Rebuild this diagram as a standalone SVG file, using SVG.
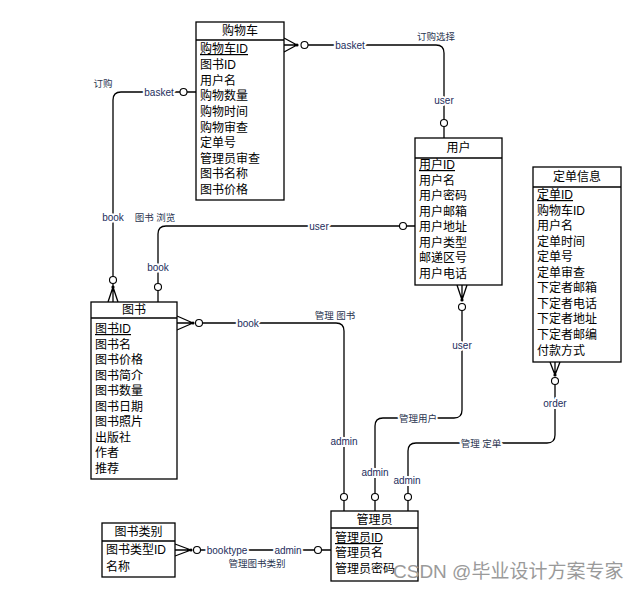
<svg xmlns="http://www.w3.org/2000/svg" width="640" height="591" viewBox="0 0 640 591">
<style>
.box{fill:#fff;stroke:#000;stroke-width:1.3}
.ln{fill:none;stroke:#000;stroke-width:1.3}
.cir{fill:#fff;stroke:#000;stroke-width:1.1}
.dot{fill:#000}
.t{font-family:"Liberation Sans","Noto Sans CJK SC",sans-serif;font-size:12px;fill:#000}
.h{text-anchor:middle}
.pk{text-decoration:underline}
.lb{font-family:"Liberation Sans","Noto Sans CJK SC",sans-serif;font-size:10px;fill:#1c2d5c;text-anchor:middle;dominant-baseline:central;paint-order:stroke;stroke:#fff;stroke-width:4px;stroke-linejoin:round}
.lc{font-family:"Liberation Sans","Noto Sans CJK SC",sans-serif;font-size:9.5px;fill:#2a3550;text-anchor:middle;dominant-baseline:central}
.wm{font-family:"Liberation Sans","Noto Sans CJK SC",sans-serif;font-size:19px;fill:#9a9a9a}
</style>
<g id="connectors">
  <!-- 购物车 -> 用户 -->
  <path class="ln" d="M284,38 L297,45 M284,45 H297 M284,52 L297,45 M308,45 H436 Q444,45 444,53 V119.5 M444,126.5 V138"/>
  <circle class="dot" cx="297" cy="45" r="1.6"/>
  <circle class="cir" cx="304.5" cy="45" r="3.5"/>
  <circle class="cir" cx="444" cy="123" r="3.5"/>
  <text class="lb" x="350" y="45">basket</text>
  <text class="lb" x="444" y="100">user</text>
  <text class="lc" x="436" y="36">订购选择</text>
  <!-- 购物车 -> 图书 -->
  <path class="ln" d="M196,92 H187 M180,92 H121 Q113,92 113,100 V276.5 M113,283.5 V302 M113,287 L108,302 M113,287 L118,302"/>
  <circle class="cir" cx="183.5" cy="92" r="3.5"/>
  <circle class="cir" cx="113" cy="280" r="3.5"/>
  <circle class="dot" cx="113" cy="287" r="1.6"/>
  <text class="lb" x="159" y="92">basket</text>
  <text class="lb" x="113" y="217">book</text>
  <text class="lc" x="103" y="83">订购</text>
  <text class="lc" x="155" y="217">图书 浏览</text>
  <!-- 图书 -> 用户 -->
  <path class="ln" d="M158,302 V290.5 M158,283.5 V234 Q158,226 166,226 H399.5 M406.5,226 H415"/>
  <circle class="cir" cx="158" cy="287" r="3.5"/>
  <circle class="cir" cx="403" cy="226" r="3.5"/>
  <text class="lb" x="158" y="267">book</text>
  <text class="lb" x="319" y="226">user</text>
  <!-- 图书 -> 管理员 -->
  <path class="ln" d="M177,316 L193,323 M177,323 H193 M177,330 L193,323 M202.5,323 H336 Q344,323 344,331 V493.5 M344,500.5 V511"/>
  <circle class="dot" cx="193" cy="323" r="1.6"/>
  <circle class="cir" cx="199" cy="323" r="3.5"/>
  <circle class="cir" cx="344" cy="497" r="3.5"/>
  <text class="lb" x="248" y="323">book</text>
  <text class="lb" x="344" y="441">admin</text>
  <text class="lc" x="335" y="315">管理 图书</text>
  <!-- 用户 -> 管理员 -->
  <path class="ln" d="M457,285 L462,300 M462,285 V300 M467,285 L462,300 M462,310.5 V410 Q462,418 454,418 H383 Q375,418 375,426 V493.5 M375,500.5 V511"/>
  <circle class="dot" cx="462" cy="300" r="1.6"/>
  <circle class="cir" cx="462" cy="307" r="3.5"/>
  <circle class="cir" cx="375" cy="497" r="3.5"/>
  <text class="lb" x="462" y="345">user</text>
  <text class="lb" x="375" y="472">admin</text>
  <text class="lc" x="418" y="418" style="paint-order:stroke;stroke:#fff;stroke-width:4px">管理用户</text>
  <!-- 定单信息 -> 管理员 -->
  <path class="ln" d="M550,362 L555,375 M555,362 V375 M560,362 L555,375 M555,384.5 V435 Q555,443 547,443 H416 Q408,443 408,451 V493.5 M408,500.5 V511"/>
  <circle class="dot" cx="555" cy="375" r="1.6"/>
  <circle class="cir" cx="555" cy="381" r="3.5"/>
  <circle class="cir" cx="408" cy="497" r="3.5"/>
  <text class="lb" x="555" y="403">order</text>
  <text class="lb" x="407" y="480">admin</text>
  <text class="lc" x="481" y="443" style="paint-order:stroke;stroke:#fff;stroke-width:4px">管理 定单</text>
  <!-- 图书类别 -> 管理员 -->
  <path class="ln" d="M175,544 L191,550 M175,550 H191 M175,556 L191,550 M200.5,550 H314.5 M321.5,550 H331"/>
  <circle class="dot" cx="191" cy="550" r="1.6"/>
  <circle class="cir" cx="197" cy="550" r="3.5"/>
  <circle class="cir" cx="318" cy="550" r="3.5"/>
  <text class="lb" x="227" y="550">booktype</text>
  <text class="lb" x="288" y="550">admin</text>
  <text class="lc" x="257" y="563">管理图书类别</text>
</g>
<g id="cart">
  <rect class="box" x="196" y="22" width="88" height="178"/>
  <line class="ln" x1="196" y1="40" x2="284" y2="40"/>
  <text class="t h" x="240" y="35">购物车</text>
  <text class="t pk" x="200" y="53">购物车ID</text>
  <text class="t" x="200" y="69">图书ID</text>
  <text class="t" x="200" y="85">用户名</text>
  <text class="t" x="200" y="100">购物数量</text>
  <text class="t" x="200" y="116">购物时间</text>
  <text class="t" x="200" y="132">购物审查</text>
  <text class="t" x="200" y="147">定单号</text>
  <text class="t" x="200" y="163">管理员审查</text>
  <text class="t" x="200" y="178">图书名称</text>
  <text class="t" x="200" y="194">图书价格</text>
</g>
<g id="user">
  <rect class="box" x="415" y="138" width="87" height="147"/>
  <line class="ln" x1="415" y1="158" x2="502" y2="158"/>
  <text class="t h" x="458.5" y="152">用户</text>
  <text class="t pk" x="419" y="169">用户ID</text>
  <text class="t" x="419" y="185">用户名</text>
  <text class="t" x="419" y="200">用户密码</text>
  <text class="t" x="419" y="216">用户邮箱</text>
  <text class="t" x="419" y="231">用户地址</text>
  <text class="t" x="419" y="247">用户类型</text>
  <text class="t" x="419" y="262">邮递区号</text>
  <text class="t" x="419" y="278">用户电话</text>
</g>
<g id="order">
  <rect class="box" x="533" y="167" width="88" height="195"/>
  <line class="ln" x1="533" y1="187" x2="621" y2="187"/>
  <text class="t h" x="577" y="181">定单信息</text>
  <text class="t pk" x="537" y="199">定单ID</text>
  <text class="t" x="537" y="215">购物车ID</text>
  <text class="t" x="537" y="230">用户名</text>
  <text class="t" x="537" y="246">定单时间</text>
  <text class="t" x="537" y="261">定单号</text>
  <text class="t" x="537" y="277">定单审查</text>
  <text class="t" x="537" y="292">下定者邮箱</text>
  <text class="t" x="537" y="308">下定者电话</text>
  <text class="t" x="537" y="323">下定者地址</text>
  <text class="t" x="537" y="339">下定者邮编</text>
  <text class="t" x="537" y="355">付款方式</text>
</g>
<g id="book">
  <rect class="box" x="91" y="302" width="86" height="177"/>
  <line class="ln" x1="91" y1="318" x2="177" y2="318"/>
  <text class="t h" x="134" y="314">图书</text>
  <text class="t pk" x="95" y="333">图书ID</text>
  <text class="t" x="95" y="349">图书名</text>
  <text class="t" x="95" y="364">图书价格</text>
  <text class="t" x="95" y="380">图书简介</text>
  <text class="t" x="95" y="395">图书数量</text>
  <text class="t" x="95" y="411">图书日期</text>
  <text class="t" x="95" y="426">图书照片</text>
  <text class="t" x="95" y="442">出版社</text>
  <text class="t" x="95" y="457">作者</text>
  <text class="t" x="95" y="473">推荐</text>
</g>
<g id="admin">
  <rect class="box" x="331" y="511" width="87" height="70"/>
  <line class="ln" x1="331" y1="528" x2="418" y2="528"/>
  <text class="t h" x="374.5" y="524">管理员</text>
  <text class="t pk" x="335" y="542">管理员ID</text>
  <text class="t" x="335" y="557">管理员名</text>
  <text class="t" x="335" y="573">管理员密码</text>
</g>
<g id="booktype">
  <rect class="box" x="102" y="523" width="73" height="54"/>
  <line class="ln" x1="102" y1="541" x2="175" y2="541"/>
  <text class="t h" x="138.5" y="536">图书类别</text>
  <text class="t" x="106" y="554">图书类型ID</text>
  <text class="t" x="106" y="571">名称</text>
</g>
<text class="wm" x="393" y="578">CSDN @毕业设计方案专家</text>
</svg>
